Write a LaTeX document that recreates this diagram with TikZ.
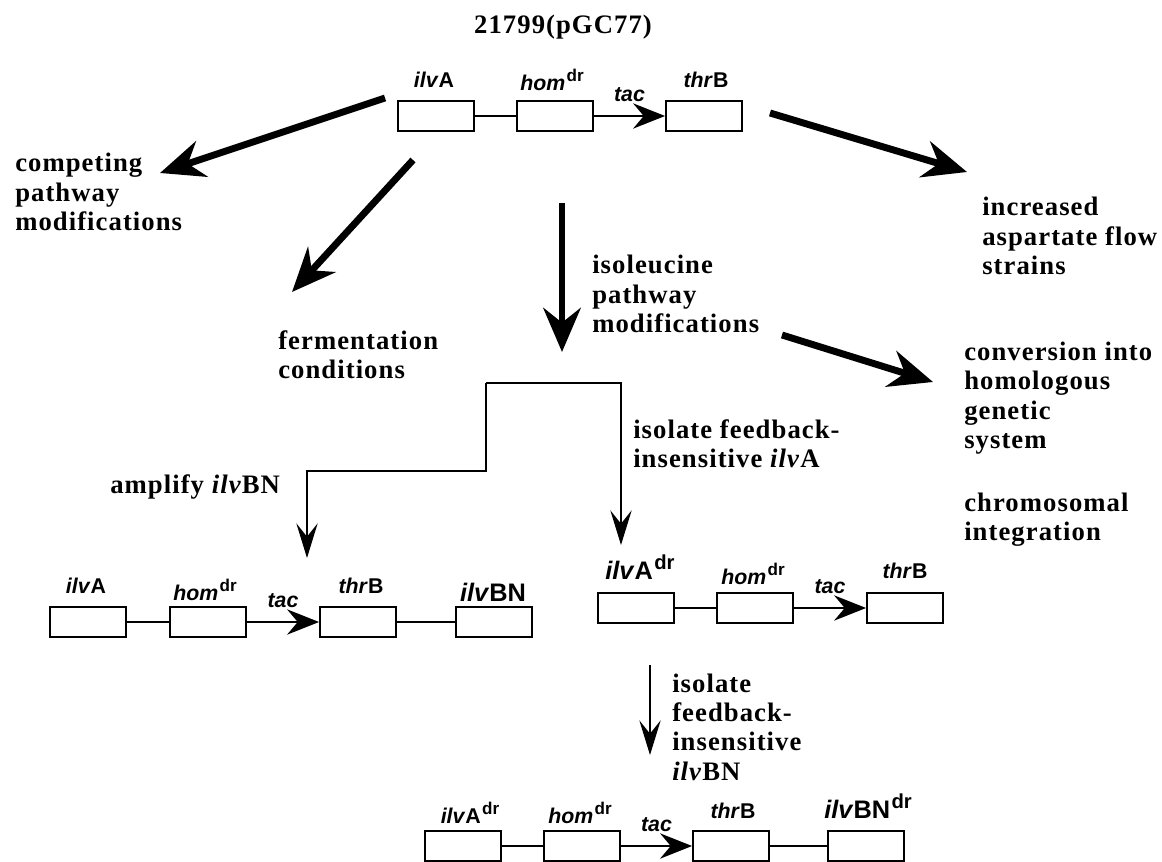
\documentclass[tikz,border=0pt]{standalone}
\usepackage{fontspec}
\setmainfont{Liberation Serif}
\newfontfamily\notefamily{Liberation Serif}[LetterSpace=4]
\newfontfamily\genefamily{Liberation Sans}
\usetikzlibrary{arrows.meta}

\newcommand\notefont{\notefamily\bfseries\fontsize{20}{22}\selectfont}
\newcommand\genefont{\genefamily\bfseries\fontsize{16}{18}\selectfont}
\newcommand\biggenefont{\genefamily\bfseries\fontsize{19}{21}\selectfont}
\newcommand\mutdr{\kern1pt\raisebox{0.42em}{\scalebox{0.8}{dr}}}

\tikzset{
  genebox/.style={draw, line width=1.4pt, minimum width=57pt, minimum height=23pt, inner sep=0pt},
  genelab/.style={font=\genefont, inner sep=0pt},
  biglab/.style={font=\biggenefont, inner sep=0pt},
  taclab/.style={font=\genefont, inner sep=0pt, above=10pt},
  note/.style={font=\notefont, align=left, anchor=west, inner sep=0pt},
  link/.style={line width=1.1pt},
  tacarrow/.style={line width=1.1pt, -{Stealth[length=24pt,width=19pt,inset=8pt]}},
  bigarrow/.style={line width=5.2pt, -{Stealth[length=33pt,width=28pt,inset=11pt]}},
  thinarrow/.style={line width=1.3pt, -{Stealth[length=26pt,width=16pt,inset=10pt]}}
}

\begin{document}
\begin{tikzpicture}[x=0.75pt,y=-0.75pt]
  \useasboundingbox (0,0) rectangle (1162,862);

  \node[font=\notefont] (title) at (563,27) {21799(pGC77)};

  % starting plasmid
  \node[genebox] (p1) at (436,116) {};
  \node[genebox] (p2) at (555,116) {};
  \node[genebox] (p3) at (704,116) {};
  \node[genelab] (p1lab) at (434,80) {\textit{ilv}A};
  \node[genelab] (p2lab) at (552,80) {\textit{hom}\mutdr};
  \node[genelab] (p3lab) at (706,80) {\textit{thr}B};
  \draw[link] (p1) -- (p2);
  \draw[tacarrow] (p2) -- node[taclab] (ptac) {\textit{tac}} (p3);

  % the four strategies
  \node[note] (compete) at (15,192) {competing\\pathway\\modifications};
  \node[note] (ferment) at (278,355) {fermentation\\conditions};
  \node[note] (ile) at (592,294) {isoleucine\\pathway\\modifications};
  \node[note] (aspflow) at (982,236) {increased\\aspartate flow\\strains};
  \node[note] (homol) at (964,398) {conversion into\\homologous\\genetic\\system};
  \node[note] (chrom) at (964,520) {chromosomal\\integration};

  \coordinate (t1) at (385,98);   \coordinate (h1) at (160,173);
  \coordinate (t2) at (413,160);  \coordinate (h2) at (292,292);
  \coordinate (t3) at (770,113);  \coordinate (h3) at (967,172);
  \coordinate (t4) at (562,203);  \coordinate (h4) at (562,352);
  \coordinate (t5) at (782,335);  \coordinate (h5) at (933,382);
  \draw[bigarrow] (t1) -- (h1);
  \draw[bigarrow] (t2) -- (h2);
  \draw[bigarrow] (t3) -- (h3);
  \draw[bigarrow] (t4) -- (h4);
  \draw[bigarrow] (t5) -- (h5);

  % split into the two constructions
  \coordinate (split) at (486,383);
  \coordinate (bendL) at (307,471);
  \coordinate (tipL) at (307,558);
  \coordinate (tipR) at (621,545);
  \draw[thinarrow] (split) -| (tipR);
  \draw[thinarrow] (split) |- (bendL) -- (tipL);
  \node[note] (amplify) at (110,487) {amplify \textit{ilv}BN};
  \node[note] (isoA) at (633,444) {isolate feedback-\\insensitive \textit{ilv}A};

  % amplified ilvBN plasmid
  \node[genebox] (a1) at (88,622) {};
  \node[genebox] (a2) at (208,622) {};
  \node[genebox] (a3) at (358,622) {};
  \node[genebox] (a4) at (494,622) {};
  \node[genelab] (a1lab) at (86,586) {\textit{ilv}A};
  \node[genelab] (a2lab) at (205,590) {\textit{hom}\mutdr};
  \node[genelab] (a3lab) at (361,586) {\textit{thr}B};
  \node[biglab] (a4lab) at (493,592) {\textit{ilv}BN};
  \draw[link] (a1) -- (a2);
  \draw[tacarrow] (a2) -- node[taclab] (atac) {\textit{tac}} (a3);
  \draw[link] (a3) -- (a4);

  % feedback-resistant ilvA plasmid
  \node[genebox] (b1) at (636,608) {};
  \node[genebox] (b2) at (755,608) {};
  \node[genebox] (b3) at (905,608) {};
  \node[biglab] (b1lab) at (640,567) {\textit{ilv}A\mutdr};
  \node[genelab] (b2lab) at (753,574) {\textit{hom}\mutdr};
  \node[genelab] (b3lab) at (905,571) {\textit{thr}B};
  \draw[link] (b1) -- (b2);
  \draw[tacarrow] (b2) -- node[taclab] (btac) {\textit{tac}} (b3);

  \coordinate (t6) at (650,665);
  \coordinate (h6) at (650,755);
  \draw[thinarrow] (t6) -- (h6);
  \node[note] (isoBN) at (672,727) {isolate\\feedback-\\insensitive\\\textit{ilv}BN};

  % final construction
  \node[genebox] (c1) at (463,846) {};
  \node[genebox] (c2) at (582,846) {};
  \node[genebox] (c3) at (731,846) {};
  \node[genebox] (c4) at (866,846) {};
  \node[genelab] (c1lab) at (470,813) {\textit{ilv}A\mutdr};
  \node[genelab] (c2lab) at (580,813) {\textit{hom}\mutdr};
  \node[genelab] (c3lab) at (733,811) {\textit{thr}B};
  \node[biglab] (c4lab) at (868,806) {\textit{ilv}BN\mutdr};
  \draw[link] (c1) -- (c2);
  \draw[tacarrow] (c2) -- node[taclab] (ctac) {\textit{tac}} (c3);
  \draw[link] (c3) -- (c4);
\end{tikzpicture}
\end{document}
